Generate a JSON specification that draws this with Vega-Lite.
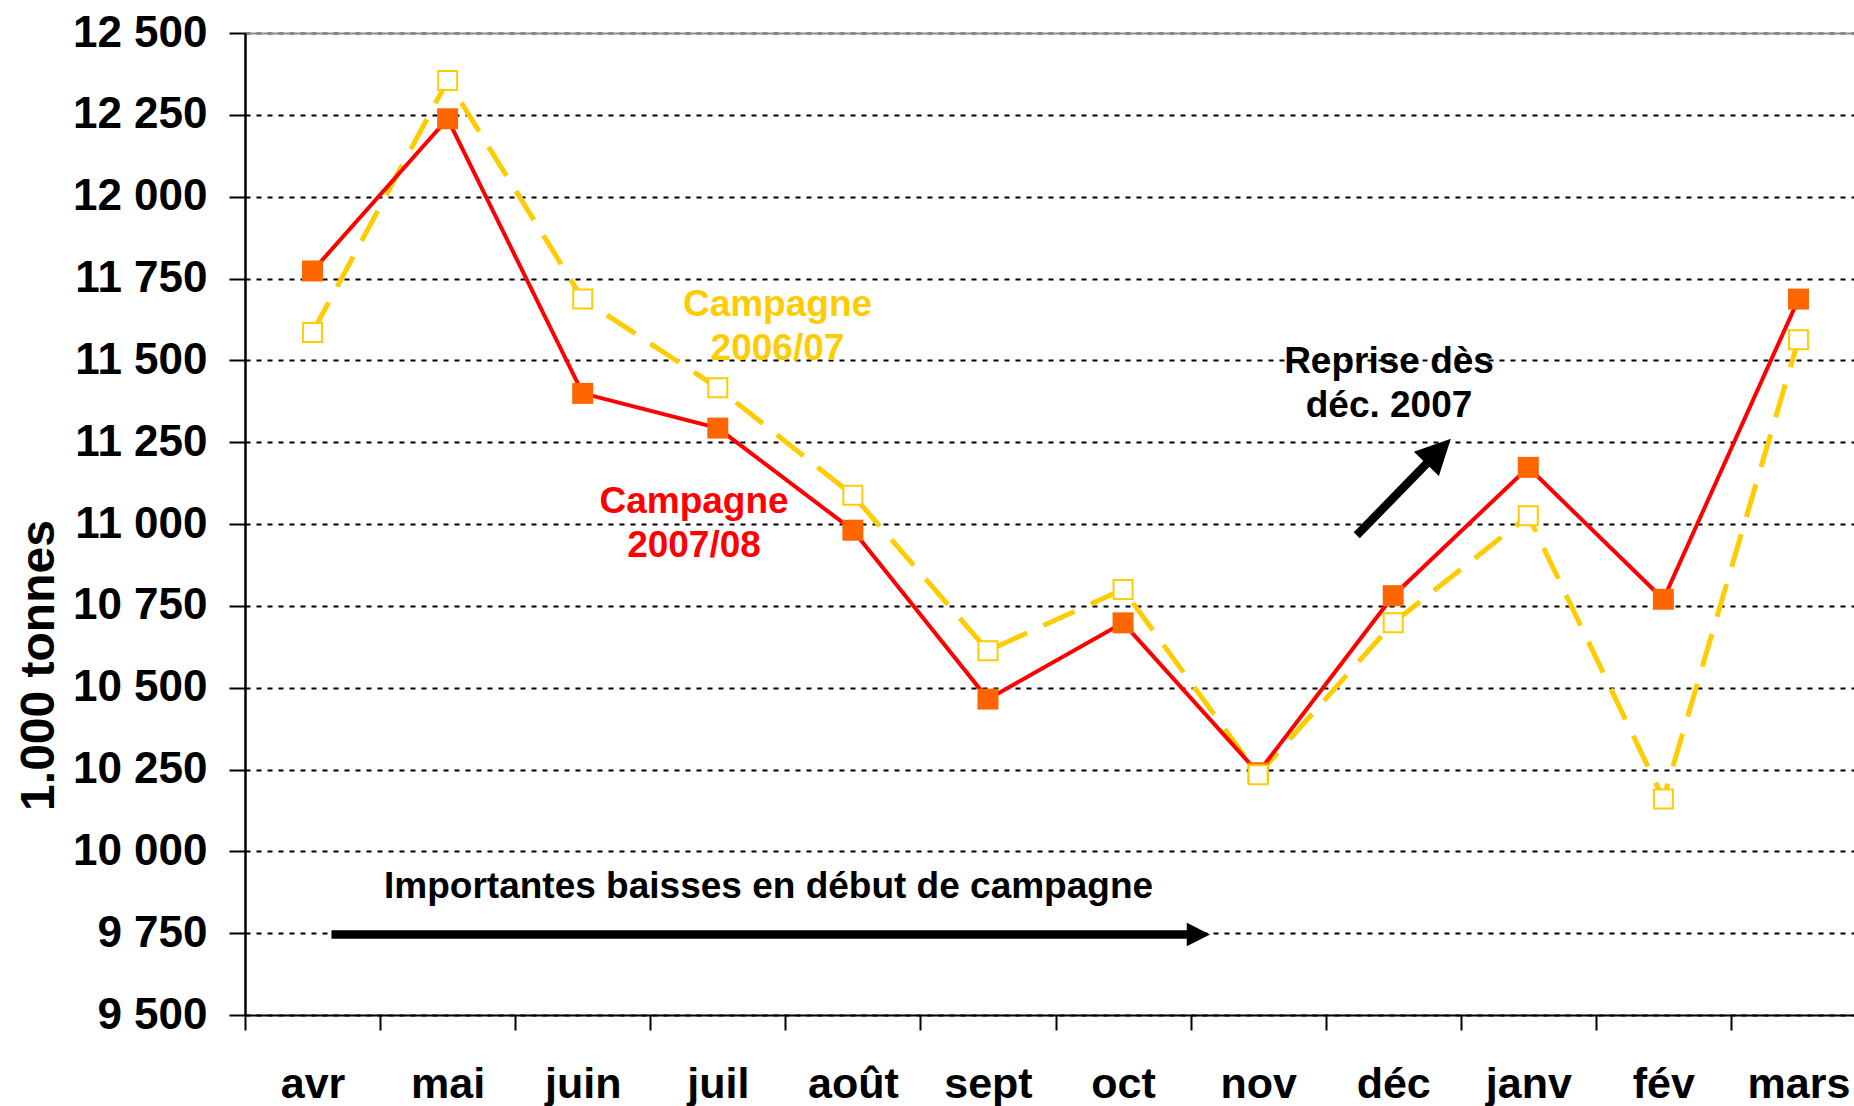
{
  "$schema": "https://vega.github.io/schema/vega-lite/v6.json",
  "autosize": {"type": "none"},
  "padding": {"left": 245, "top": 33, "right": 0, "bottom": 91},
  "width": 1609,
  "height": 982,
  "background": "white",
  "config": {"view": {"stroke": null}, "font": "Liberation Sans"},
  "datasets": {
    "stocks": [
      {"mois": "avr", "campagne": "2007/08", "valeur": 11773},
      {"mois": "mai", "campagne": "2007/08", "valeur": 12238},
      {"mois": "juin", "campagne": "2007/08", "valeur": 11399},
      {"mois": "juil", "campagne": "2007/08", "valeur": 11293},
      {"mois": "août", "campagne": "2007/08", "valeur": 10981},
      {"mois": "sept", "campagne": "2007/08", "valeur": 10465},
      {"mois": "oct", "campagne": "2007/08", "valeur": 10698},
      {"mois": "nov", "campagne": "2007/08", "valeur": 10240},
      {"mois": "déc", "campagne": "2007/08", "valeur": 10781},
      {"mois": "janv", "campagne": "2007/08", "valeur": 11173},
      {"mois": "fév", "campagne": "2007/08", "valeur": 10770},
      {"mois": "mars", "campagne": "2007/08", "valeur": 11687},
      {"mois": "avr", "campagne": "2006/07", "valeur": 11585},
      {"mois": "mai", "campagne": "2006/07", "valeur": 12355},
      {"mois": "juin", "campagne": "2006/07", "valeur": 11687},
      {"mois": "juil", "campagne": "2006/07", "valeur": 11416},
      {"mois": "août", "campagne": "2006/07", "valeur": 11088},
      {"mois": "sept", "campagne": "2006/07", "valeur": 10613},
      {"mois": "oct", "campagne": "2006/07", "valeur": 10800},
      {"mois": "nov", "campagne": "2006/07", "valeur": 10234},
      {"mois": "déc", "campagne": "2006/07", "valeur": 10698},
      {"mois": "janv", "campagne": "2006/07", "valeur": 11025},
      {"mois": "fév", "campagne": "2006/07", "valeur": 10160},
      {"mois": "mars", "campagne": "2006/07", "valeur": 11563}
    ],
    "notes": [
      {"texte": "Campagne\n2006/07", "serie": "2006/07", "u": 3.942, "v": 11634},
      {"texte": "Campagne\n2007/08", "serie": "2007/08", "u": 3.324, "v": 11034},
      {"texte": "Reprise dès\ndéc. 2007", "serie": "note", "u": 8.469, "v": 11462},
      {"texte": "Importantes baisses en début de campagne", "serie": "note", "u": 3.876, "v": 9856}
    ],
    "fleches": [
      {"fleche": "baisse", "u": 0.64, "v": 9746, "u2": 7.0, "v2": 9746},
      {"fleche": "reprise", "u": 8.23, "v": 10965.5, "u2": 8.836, "v2": 11222}
    ],
    "pointes": [
      {"fleche": "baisse", "u": 7.058, "v": 9746},
      {"fleche": "reprise", "u": 8.836, "v": 11222}
    ]
  },
  "layer": [
    {
      "data": {"name": "stocks"},
      "encoding": {
        "x": {
          "field": "mois",
          "type": "ordinal",
          "scale": {
            "type": "band",
            "domain": ["avr", "mai", "juin", "juil", "août", "sept", "oct", "nov", "déc", "janv", "fév", "mars"],
            "range": [0, 1621],
            "paddingInner": 0,
            "paddingOuter": 0
          },
          "axis": {
            "orient": "bottom",
            "title": null,
            "grid": false,
            "domainColor": "black",
            "domainWidth": 2,
            "tickBand": "extent",
            "tickSize": 15,
            "tickWidth": 2,
            "tickColor": "black",
            "labelFontSize": 43,
            "labelFontWeight": "bold",
            "labelColor": "black",
            "labelFont": "Liberation Sans",
            "labelPadding": 33,
            "labelAngle": 0
          }
        },
        "y": {
          "field": "valeur",
          "type": "quantitative",
          "scale": {"domain": [9500, 12500], "nice": false, "zero": false},
          "axis": {
            "values": [9500, 9750, 10000, 10250, 10500, 10750, 11000, 11250, 11500, 11750, 12000, 12250, 12500],
            "labelExpr": "replace(format(datum.value, ','), ',', ' ')",
            "grid": true,
            "gridColor": "black",
            "gridWidth": 2,
            "gridDash": [5, 6],
            "domainColor": "black",
            "domainWidth": 2.5,
            "tickSize": 16,
            "tickWidth": 2,
            "tickColor": "black",
            "labelFontSize": 44,
            "labelFontWeight": "bold",
            "labelColor": "black",
            "labelFont": "Liberation Sans",
            "labelPadding": 22,
            "title": "1.000 tonnes",
            "titleFontSize": 48,
            "titleFontWeight": "bold",
            "titleFont": "Liberation Sans",
            "titleColor": "black",
            "titleAngle": 270,
            "titleAlign": "center",
            "titleBaseline": "alphabetic",
            "titleX": -192,
            "titleY": 632
          }
        }
      },
      "layer": [
        {
          "transform": [{"filter": "datum.campagne === '2006/07'"}],
          "mark": {"type": "line", "color": "#FFCC00", "strokeWidth": 5, "strokeDash": [34, 18]}
        },
        {
          "transform": [{"filter": "datum.campagne === '2007/08'"}],
          "mark": {"type": "line", "color": "#FF0000", "strokeWidth": 4}
        },
        {
          "transform": [{"filter": "datum.campagne === '2007/08'"}],
          "mark": {"type": "square", "color": "#FF6600", "size": 441, "opacity": 1}
        },
        {
          "transform": [{"filter": "datum.campagne === '2006/07'"}],
          "mark": {"type": "point", "shape": "square", "filled": true, "fill": "white", "stroke": "#FFCC00", "strokeWidth": 2, "size": 361, "opacity": 1}
        }
      ]
    },
    {
      "layer": [
        {
          "data": {"name": "fleches"},
          "mark": {"type": "rule", "color": "black", "strokeWidth": 8.5, "strokeCap": "butt"},
          "encoding": {
            "x": {"field": "u", "type": "quantitative", "scale": {"domain": [0, 12], "range": [0, 1621], "nice": false, "zero": false},
                  "axis": {"orient": "top", "labels": false, "ticks": false, "grid": false, "title": null, "domainColor": "#8c8c8c", "domainWidth": 2}},
            "x2": {"field": "u2"},
            "y": {"field": "v", "type": "quantitative", "axis": null},
            "y2": {"field": "v2"}
          }
        },
        {
          "data": {"name": "pointes"},
          "transform": [{"filter": "datum.fleche === 'baisse'"}],
          "mark": {"type": "point", "shape": "M-1,-1L1,0L-1,1Z", "filled": true, "color": "black", "opacity": 1, "size": 543, "angle": 0},
          "encoding": {
            "x": {"field": "u", "type": "quantitative"},
            "y": {"field": "v", "type": "quantitative", "axis": null}
          }
        },
        {
          "data": {"name": "pointes"},
          "transform": [{"filter": "datum.fleche === 'reprise'"}],
          "mark": {"type": "point", "shape": "M-1,-1L1,0L-1,1Z", "filled": true, "color": "black", "opacity": 1, "size": 1225, "angle": -45.7},
          "encoding": {
            "x": {"field": "u", "type": "quantitative"},
            "y": {"field": "v", "type": "quantitative", "axis": null}
          }
        },
        {
          "data": {"name": "notes"},
          "mark": {"type": "text", "font": "Liberation Sans", "fontSize": 37, "fontWeight": "bold", "align": "center", "baseline": "alphabetic", "lineBreak": "\n", "lineHeight": 44},
          "encoding": {
            "x": {"field": "u", "type": "quantitative"},
            "y": {"field": "v", "type": "quantitative", "axis": null},
            "text": {"field": "texte"},
            "color": {"field": "serie", "type": "nominal", "scale": {"domain": ["2006/07", "2007/08", "note"], "range": ["#FFCC00", "#FF0000", "#000000"]}, "legend": null}
          }
        }
      ]
    }
  ],
  "resolve": {"scale": {"x": "independent"}, "axis": {"x": "independent", "y": "independent"}}
}
